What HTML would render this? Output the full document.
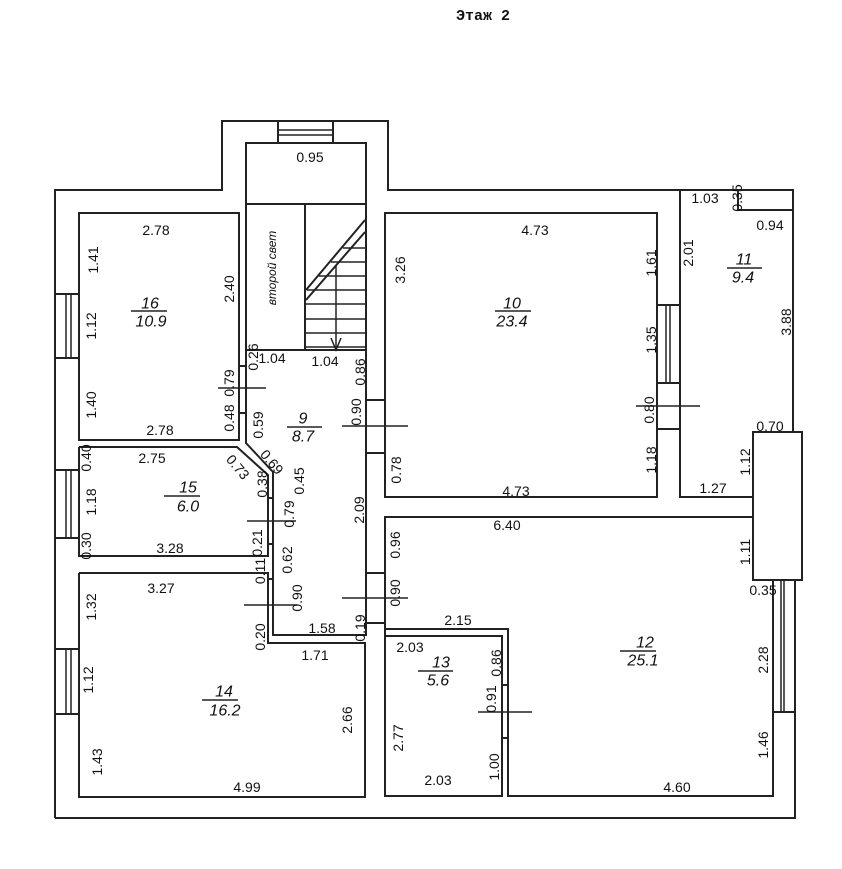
<!DOCTYPE html>
<html><head><meta charset="utf-8"><style>
html,body{margin:0;padding:0;background:#fff;}
svg{display:block;}
text{font-family:"Liberation Sans",sans-serif;font-size:14px;fill:#111;}
.t{font-family:"Liberation Mono","DejaVu Sans Mono",monospace;font-size:15px;font-weight:bold;}
.i{font-style:italic;font-size:16px;}
</style></head><body>
<svg width="842" height="869" viewBox="0 0 842 869" xmlns="http://www.w3.org/2000/svg">
<g fill="none" stroke="#222" stroke-width="2">
<!-- outer -->
<polyline points="55,818 55,190 222,190 222,121 388,121 388,190 793,190 793,432"/>
<polyline points="795,580 795,818 55,818"/>
<rect x="278" y="121" width="55" height="22"/>
<line x1="278" y1="130" x2="333" y2="130" stroke-width="1.5"/><line x1="278" y1="135" x2="333" y2="135" stroke-width="1.5"/>
<!-- stair -->
<rect x="246" y="143" width="120" height="207"/>
<line x1="246" y1="204" x2="366" y2="204"/>
<line x1="305" y1="204" x2="305" y2="350"/>
<line x1="365" y1="220" x2="306" y2="290"/><line x1="365" y1="232" x2="306" y2="300"/>
<g stroke-width="1.5"><line x1="343" y1="248" x2="366" y2="248"/><line x1="331" y1="262" x2="366" y2="262"/><line x1="319" y1="276" x2="366" y2="276"/><line x1="307" y1="290" x2="366" y2="290"/><line x1="305" y1="304" x2="366" y2="304"/><line x1="305" y1="319" x2="366" y2="319"/><line x1="305" y1="333" x2="366" y2="333"/><line x1="305" y1="347" x2="366" y2="347"/>
<line x1="336" y1="266" x2="336" y2="350"/><polyline points="331,338 336,350 341,338"/></g>
<!-- room 16 -->
<rect x="79" y="213" width="160" height="227"/>
<rect x="55" y="294" width="24" height="64"/>
<line x1="66" y1="294" x2="66" y2="358" stroke-width="1.5"/><line x1="71" y1="294" x2="71" y2="358" stroke-width="1.5"/>
<!-- corridor -->
<polyline points="246,350 246,443 273,472 273,635 366,635 366,350"/>
<line x1="238" y1="366" x2="246" y2="366"/><line x1="238" y1="413" x2="246" y2="413"/>
<line x1="218" y1="388" x2="266" y2="388" stroke-width="1.5"/>
<!-- room 15 -->
<polyline points="79,447 237,447 268,475 268,556 79,556 79,447"/>
<rect x="55" y="470" width="24" height="68"/>
<line x1="66" y1="470" x2="66" y2="538" stroke-width="1.5"/><line x1="71" y1="470" x2="71" y2="538" stroke-width="1.5"/>
<line x1="268" y1="498" x2="273" y2="498"/><line x1="268" y1="544" x2="273" y2="544"/>
<line x1="247" y1="521" x2="296" y2="521" stroke-width="1.5"/>
<!-- room 14 -->
<polyline points="79,573 268,573 268,643 365,643 365,797 79,797 79,573"/>
<rect x="55" y="649" width="24" height="65"/>
<line x1="66" y1="649" x2="66" y2="714" stroke-width="1.5"/><line x1="71" y1="649" x2="71" y2="714" stroke-width="1.5"/>
<line x1="268" y1="579" x2="273" y2="579"/>
<line x1="244" y1="605" x2="297" y2="605" stroke-width="1.5"/>
<!-- room 10 -->
<rect x="385" y="213" width="272" height="284"/>
<line x1="366" y1="400" x2="385" y2="400"/><line x1="366" y1="453" x2="385" y2="453"/>
<line x1="342" y1="426" x2="408" y2="426" stroke-width="1.5"/>
<line x1="366" y1="573" x2="385" y2="573"/><line x1="366" y1="623" x2="385" y2="623"/>
<line x1="342" y1="598" x2="408" y2="598" stroke-width="1.5"/>
<rect x="657" y="305" width="23" height="78"/>
<line x1="666" y1="305" x2="666" y2="383" stroke-width="1.5"/><line x1="670" y1="305" x2="670" y2="383" stroke-width="1.5"/>
<line x1="657" y1="429" x2="680" y2="429"/>
<line x1="636" y1="406" x2="700" y2="406" stroke-width="1.5"/>
<!-- room 11 -->
<polyline points="680,190 680,497 753,497"/>
<polyline points="738,190 738,210 793,210"/>
<rect x="753" y="432" width="49" height="148"/>
<!-- room 12 -->
<polyline points="385,636 385,517 753,517 753,580 773,580 773,796 508,796 508,629 385,629"/>
<rect x="773" y="580" width="22" height="132"/>
<line x1="781" y1="580" x2="781" y2="712" stroke-width="1.5"/><line x1="784" y1="580" x2="784" y2="712" stroke-width="1.5"/>
<!-- room 13 -->
<rect x="385" y="636" width="117" height="160"/>
<line x1="502" y1="685" x2="508" y2="685"/><line x1="502" y1="738" x2="508" y2="738"/>
<line x1="478" y1="712" x2="532" y2="712" stroke-width="1.5"/>
<!-- name underlines -->
<g stroke-width="1.5">
<line x1="131" y1="311" x2="167" y2="311"/><line x1="287" y1="427" x2="322" y2="427"/>
<line x1="495" y1="311" x2="531" y2="311"/><line x1="727" y1="268" x2="762" y2="268"/>
<line x1="164" y1="496" x2="200" y2="496"/><line x1="202" y1="700" x2="238" y2="700"/>
<line x1="418" y1="671" x2="453" y2="671"/><line x1="620" y1="651" x2="656" y2="651"/>
</g>
</g>
<text class="t" x="483" y="20" text-anchor="middle">Этаж 2</text>
<g text-anchor="middle" dominant-baseline="central">
<text x="310" y="157">0.95</text>
<text x="156" y="230">2.78</text>
<text x="160" y="430">2.78</text>
<text class="i" x="150" y="304">16</text><text class="i" x="151" y="322">10.9</text>
<text x="272" y="358">1.04</text><text x="325" y="361">1.04</text>
<text class="i" x="303" y="419">9</text><text class="i" x="303" y="437">8.7</text>
<text x="535" y="230">4.73</text><text x="516" y="491">4.73</text>
<text class="i" x="512" y="304">10</text><text class="i" x="512" y="322">23.4</text>
<text x="705" y="198">1.03</text><text x="770" y="225">0.94</text>
<text class="i" x="744" y="260">11</text><text class="i" x="743" y="278">9.4</text>
<text x="770" y="426">0.70</text><text x="713" y="488">1.27</text>
<text x="152" y="458">2.75</text><text x="170" y="548">3.28</text>
<text class="i" x="188" y="488">15</text><text class="i" x="188" y="507">6.0</text>
<text x="161" y="588">3.27</text><text x="322" y="628">1.58</text><text x="315" y="655">1.71</text>
<text class="i" x="224" y="692">14</text><text class="i" x="225" y="711">16.2</text>
<text x="247" y="787">4.99</text>
<text x="507" y="525">6.40</text><text x="458" y="620">2.15</text><text x="763" y="590">0.35</text>
<text x="410" y="647">2.03</text><text x="438" y="780">2.03</text>
<text class="i" x="441" y="663">13</text><text class="i" x="438" y="681">5.6</text>
<text class="i" x="645" y="643">12</text><text class="i" x="643" y="661">25.1</text>
<text x="677" y="787">4.60</text>
<text transform="translate(238,467) rotate(50)">0.73</text>
<text transform="translate(272,462) rotate(50)">0.69</text>
<g>
<text transform="translate(93,260) rotate(-90)">1.41</text>
<text transform="translate(229,289) rotate(-90)">2.40</text>
<text transform="translate(91,326) rotate(-90)">1.12</text>
<text transform="translate(91,405) rotate(-90)">1.40</text>
<text transform="translate(229,418) rotate(-90)">0.48</text>
<text transform="translate(229,383) rotate(-90)">0.79</text>
<text class="i" transform="translate(272,268) rotate(-90)" style="font-size:12px">второй свет</text>
<text transform="translate(253,357) rotate(-90)">0.26</text>
<text transform="translate(258,425) rotate(-90)">0.59</text>
<text transform="translate(360,372) rotate(-90)">0.86</text>
<text transform="translate(356,412) rotate(-90)">0.90</text>
<text transform="translate(400,270) rotate(-90)">3.26</text>
<text transform="translate(651,263) rotate(-90)">1.61</text>
<text transform="translate(651,340) rotate(-90)">1.35</text>
<text transform="translate(649,410) rotate(-90)">0.80</text>
<text transform="translate(651,460) rotate(-90)">1.18</text>
<text transform="translate(396,470) rotate(-90)">0.78</text>
<text transform="translate(737,198) rotate(-90)">0.35</text>
<text transform="translate(688,253) rotate(-90)">2.01</text>
<text transform="translate(786,322) rotate(-90)">3.88</text>
<text transform="translate(745,462) rotate(-90)">1.12</text>
<text transform="translate(86,458) rotate(-90)">0.40</text>
<text transform="translate(91,502) rotate(-90)">1.18</text>
<text transform="translate(262,484) rotate(-90)">0.38</text>
<text transform="translate(299,481) rotate(-90)">0.45</text>
<text transform="translate(289,514) rotate(-90)">0.79</text>
<text transform="translate(359,510) rotate(-90)">2.09</text>
<text transform="translate(86,546) rotate(-90)">0.30</text>
<text transform="translate(257,543) rotate(-90)">0.21</text>
<text transform="translate(287,560) rotate(-90)">0.62</text>
<text transform="translate(260,571) rotate(-90)">0.11</text>
<text transform="translate(91,607) rotate(-90)">1.32</text>
<text transform="translate(297,598) rotate(-90)">0.90</text>
<text transform="translate(260,637) rotate(-90)">0.20</text>
<text transform="translate(360,628) rotate(-90)">0.19</text>
<text transform="translate(88,680) rotate(-90)">1.12</text>
<text transform="translate(347,720) rotate(-90)">2.66</text>
<text transform="translate(97,762) rotate(-90)">1.43</text>
<text transform="translate(395,545) rotate(-90)">0.96</text>
<text transform="translate(395,593) rotate(-90)">0.90</text>
<text transform="translate(745,552) rotate(-90)">1.11</text>
<text transform="translate(496,663) rotate(-90)">0.86</text>
<text transform="translate(491,699) rotate(-90)">0.91</text>
<text transform="translate(763,660) rotate(-90)">2.28</text>
<text transform="translate(398,738) rotate(-90)">2.77</text>
<text transform="translate(763,745) rotate(-90)">1.46</text>
<text transform="translate(494,767) rotate(-90)">1.00</text>
</g>
</g>
</svg>
</body></html>
